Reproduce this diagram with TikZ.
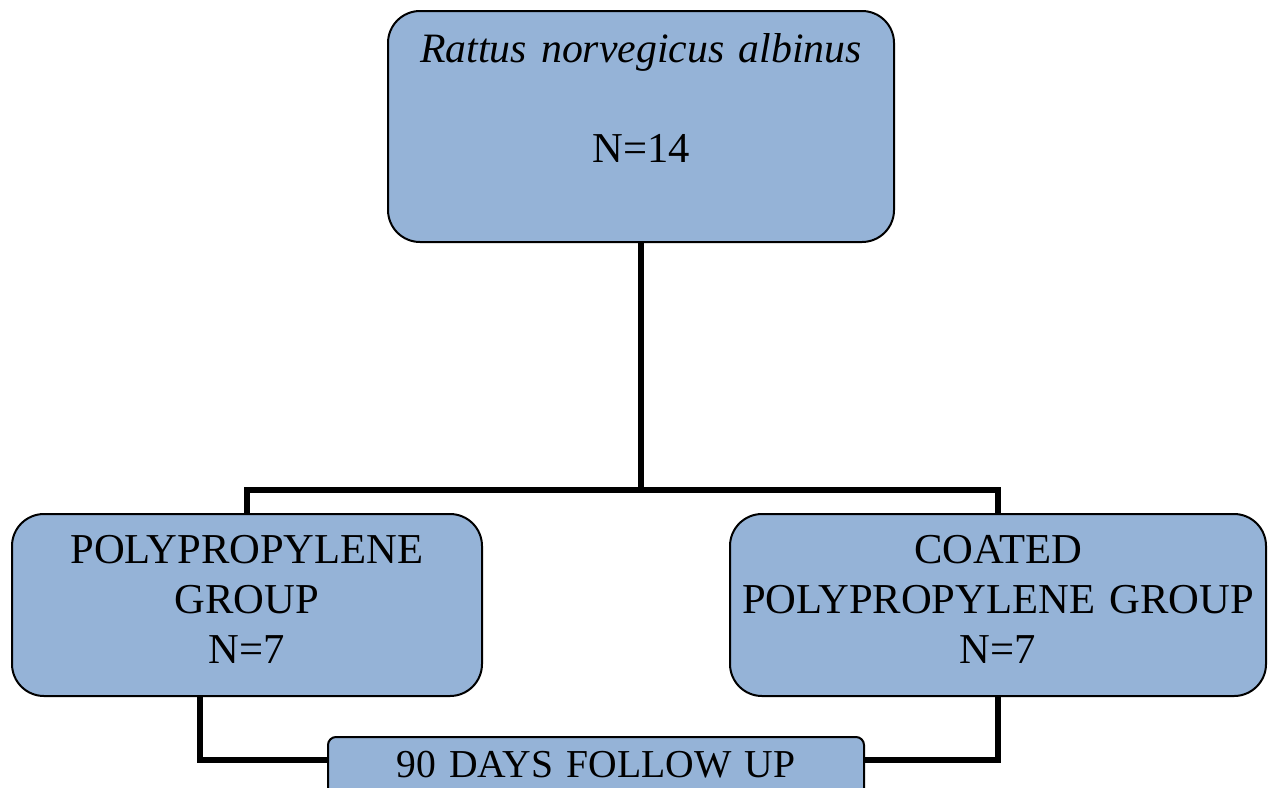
\documentclass[tikz,border=0pt]{standalone}
\usepackage{fontspec}
\setmainfont{Liberation Serif}
\usetikzlibrary{calc}
\definecolor{boxblue}{HTML}{95B3D7}
\tikzset{
  box/.style={draw=black, line width=1pt, fill=boxblue, rounded corners=16pt, inner sep=0pt},
  txt/.style={font=\fontsize{21.3pt}{25pt}\selectfont, align=center, inner sep=0pt, anchor=base},
  conn/.style={draw=black, line width=2.6pt}
}
\begin{document}
\begin{tikzpicture}[x=0.5pt,y=-0.5pt]
\useasboundingbox (0,0) rectangle (1272,787);
\clip (0,0) rectangle (1272,787);
% boxes
\node[box, minimum width=253pt, minimum height=115.5pt] (top) at (641,126.5) {};
\node[box, minimum width=235pt, minimum height=91pt] (left) at (247,605) {};
\node[box, minimum width=268pt, minimum height=91pt] (right) at (998,605) {};
\node[box, rounded corners=4pt, minimum width=268pt, minimum height=36pt] (bot) at (596,773) {};
% texts
\node[txt, text width=260pt] (toptxt) at (641,62) {\fontsize{20.9pt}{25pt}\selectfont\textit{Rattus norvegicus albinus}\\[25pt]\fontsize{21.3pt}{25pt}\selectfont N=14};
\node[txt, text width=240pt] (lefttxt) at (247,563) {POLYPROPYLENE\\GROUP\\N=7};
\node[txt, text width=268pt] (righttxt) at (998,563) {COATED\\POLYPROPYLENE GROUP\\N=7};
\node[txt, text width=268pt, font=\fontsize{19.8pt}{24pt}\selectfont] (bottxt) at (596,777) {90 DAYS FOLLOW UP};
% connectors
\coordinate (j) at (641,490);
\coordinate (lb) at (200,696);
\coordinate (rb) at (998,696);
\coordinate (bl) at (328,760);
\coordinate (br) at (864,760);
\draw[conn] (top.south) -- (j);
\draw[conn] (left.north) |- (j) -| (right.north);
\draw[conn] (lb) |- (bl);
\draw[conn] (rb) |- (br);
\end{tikzpicture}
\end{document}
